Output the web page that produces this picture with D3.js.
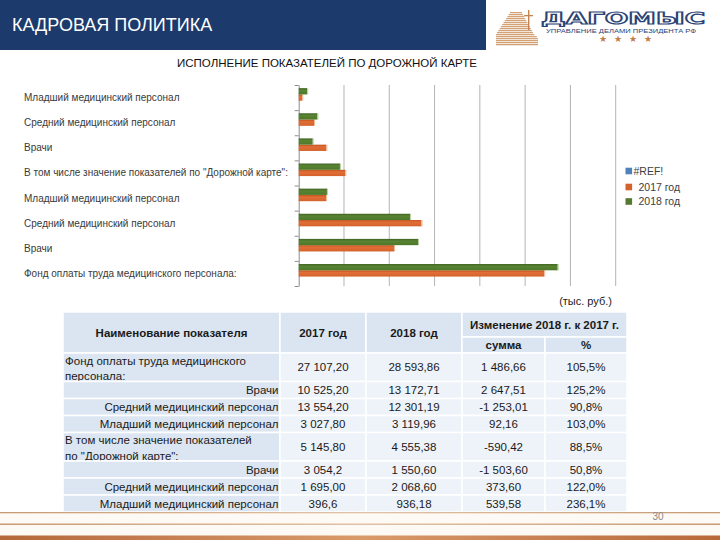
<!DOCTYPE html>
<html><head><meta charset="utf-8">
<script src="https://cdnjs.cloudflare.com/ajax/libs/d3/7.8.5/d3.min.js"></script>
<style>body{margin:0;background:#fff}svg{display:block}</style>
</head><body>
<script>
// ---------- DATA ----------
const categories = [
  "Младший медицинский персонал",
  "Средний медицинский персонал",
  "Врачи",
  "В том числе значение показателей по \"Дорожной карте\":",
  "Младший медицинский персонал",
  "Средний медицинский персонал",
  "Врачи",
  "Фонд оплаты труда медицинского персонала:"
];
const seriesNames = ["#REF!", "2017 год", "2018 год"];
const valuesRef  = [0, 0, 0, 0, 0, 0, 0, 0];
const values2017 = [396.6, 1695.00, 3054.2, 5145.80, 3027.80, 13554.20, 10525.20, 27107.20];
const values2018 = [936.18, 2068.60, 1550.60, 4555.38, 3119.96, 12301.19, 13172.71, 28593.86];
const xTicks = [0, 5000, 10000, 15000, 20000, 25000, 30000, 35000];

const tableHeader = ["Наименование показателя", "2017 год", "2018 год", "Изменение 2018 г. к 2017 г.", "сумма", "%"];
const tableNames = [
  "Фонд оплаты труда медицинского персонала:",
  "Врачи",
  "Средний медицинский персонал",
  "Младший медицинский персонал",
  "В том числе значение показателей по \"Дорожной карте\":",
  "Врачи",
  "Средний медицинский персонал",
  "Младший медицинский персонал"
];
const rowLevel = [0, 1, 1, 1, 0, 1, 1, 1];
const col2017 = ["27 107,20", "10 525,20", "13 554,20", "3 027,80", "5 145,80", "3 054,2", "1 695,00", "396,6"];
const col2018 = ["28 593,86", "13 172,71", "12 301,19", "3 119,96", "4 555,38", "1 550,60", "2 068,60", "936,18"];
const colSum  = ["1 486,66", "2 647,51", "-1 253,01", "92,16", "-590,42", "-1 503,60", "373,60", "539,58"];
const colPct  = ["105,5%", "125,2%", "90,8%", "103,0%", "88,5%", "50,8%", "122,0%", "236,1%"];

// ---------- SVG ----------
const W = 720, H = 540;
const svg = d3.select("body").append("svg").attr("width", W).attr("height", H);
const defs = svg.append("defs");

function grad(id, stops, vertical = true) {
  const g = defs.append("linearGradient").attr("id", id)
    .attr("x1", 0).attr("y1", 0).attr("x2", vertical ? 0 : 1).attr("y2", vertical ? 1 : 0);
  stops.forEach(s => g.append("stop").attr("offset", s[0]).attr("stop-color", s[1]));
}
grad("gGreen", [[0, "#3f6322"], [0.35, "#5a8434"], [1, "#4d7829"]]);
grad("gOrange", [[0, "#c4521c"], [0.35, "#e06e36"], [1, "#d4622a"]]);
grad("gBlue", [[0, "#3f6fa8"], [1, "#5b8fcf"]]);
grad("gCopper", [[0, "#b5683a"], [0.5, "#d99a6c"], [1, "#b8693a"]], false);
grad("gLine", [[0, "#c89a74"], [0.5, "#e2c3a5"], [1, "#c89a74"]], false);
grad("gBuild", [[0, "#e6c09a"], [1, "#b9773f"]]);

// ---------- HEADER ----------
svg.append("rect").attr("x", 0).attr("y", 0).attr("width", 486).attr("height", 50).attr("fill", "#1c3a6b");
svg.append("text").attr("x", 12).attr("y", 30.5).attr("fill", "#fff")
  .attr("font-family", "Liberation Sans, Arial, sans-serif").attr("font-size", 18)
  .text("КАДРОВАЯ ПОЛИТИКА");

// logo
const logo = svg.append("g");
const steps = d3.range(0, 17);
logo.selectAll("rect.step").data(steps).join("rect")
  .attr("x", d => 496 + Math.max(0, 14 - d * 1.3))
  .attr("y", d => 12 + d * 2)
  .attr("width", d => Math.min(42, 12 + d * 2.4))
  .attr("height", 1.2)
  .attr("fill", "url(#gBuild)");
logo.append("rect").attr("x", 528).attr("y", 10).attr("width", 1.4).attr("height", 20).attr("fill", "#c48450");
logo.append("rect").attr("x", 524).attr("y", 15).attr("width", 9).attr("height", 1.3).attr("fill", "#c48450");
logo.append("text").attr("x", 541).attr("y", 23.5).attr("textLength", 164).attr("lengthAdjust", "spacingAndGlyphs")
  .attr("font-family", "DejaVu Sans, sans-serif").attr("font-size", 15.5).attr("font-weight", "bold")
  .attr("fill", "none").attr("stroke", "#2b4375").attr("stroke-width", 1.2)
  .text("ДАГОМЫС");
logo.append("text").attr("x", 546).attr("y", 32.5).attr("textLength", 150).attr("lengthAdjust", "spacingAndGlyphs")
  .attr("font-family", "Liberation Sans, Arial, sans-serif").attr("font-size", 4.8).attr("fill", "#2b4375")
  .text("УПРАВЛЕНИЕ ДЕЛАМИ ПРЕЗИДЕНТА РФ");
logo.selectAll("text.star").data([0, 1, 2, 3]).join("text")
  .attr("x", d => 603 + d * 15).attr("y", 42).attr("text-anchor", "middle")
  .attr("font-family", "DejaVu Sans, sans-serif").attr("font-size", 9).attr("fill", "#c07b46")
  .text("★");

// ---------- CHART ----------
svg.append("text").attr("x", 327).attr("y", 67).attr("text-anchor", "middle")
  .attr("font-family", "Liberation Sans, Arial, sans-serif").attr("font-size", 11.5).attr("fill", "#111")
  .text("ИСПОЛНЕНИЕ ПОКАЗАТЕЛЕЙ ПО ДОРОЖНОЙ КАРТЕ");

const x = d3.scaleLinear().domain([0, 35000]).range([298.7, 615.7]);
const idx = d3.range(categories.length);
const y = d3.scaleBand().domain(idx).range([85, 286]).paddingInner(0).paddingOuter(0);
const sub = d3.scaleBand().domain(["2018", "2017", "ref"]).range([0, y.bandwidth()]).paddingInner(0).paddingOuter(0.5);

const chart = svg.append("g");
chart.selectAll("line.grid").data(xTicks.slice(1)).join("line")
  .attr("x1", d => x(d)).attr("x2", d => x(d)).attr("y1", 85).attr("y2", 286)
  .attr("stroke", "#b4b4b4").attr("stroke-width", 1);

const yAxisG = chart.append("g").attr("transform", `translate(${x(0)},0)`);
const yEdge = d3.scaleLinear().domain([0, categories.length]).range([85, 286]);
yAxisG.call(d3.axisLeft(yEdge).tickValues(d3.range(categories.length + 1)).tickSize(4).tickSizeOuter(0).tickFormat(""));
yAxisG.select(".domain").attr("stroke", "#8c8c8c");
yAxisG.selectAll(".tick line").attr("stroke", "#8c8c8c");

chart.selectAll("text.cat").data(idx).join("text")
  .attr("x", 24).attr("y", i => y(i) + y.bandwidth() / 2 + 3.5)
  .attr("font-family", "Liberation Sans, Arial, sans-serif").attr("font-size", 10).attr("fill", "#3a3a3a")
  .text(i => categories[i]);

const series = [
  { key: "ref", vals: valuesRef, fill: "url(#gBlue)", hi: "#9dbbe0" },
  { key: "2017", vals: values2017, fill: "url(#gOrange)", hi: "#f2b592" },
  { key: "2018", vals: values2018, fill: "url(#gGreen)", hi: "#b9d0a0" }
];
series.forEach(s => {
  chart.selectAll(null).data(idx).join("rect")
    .attr("x", x(0)).attr("y", i => y(i) + sub(s.key))
    .attr("width", i => Math.max(0, x(s.vals[i]) - x(0)))
    .attr("height", sub.bandwidth())
    .attr("fill", s.fill);
  chart.selectAll(null).data(idx.filter(i => s.vals[i] > 0)).join("line")
    .attr("x1", i => x(s.vals[i]) + 0.5).attr("x2", i => x(s.vals[i]) + 0.5)
    .attr("y1", i => y(i) + sub(s.key)).attr("y2", i => y(i) + sub(s.key) + sub.bandwidth())
    .attr("stroke", s.hi).attr("stroke-width", 1);
});

// legend
const leg = svg.append("g");
const legY = [171, 187, 201.5];
const legX = [633.5, 638.5, 638.5];
const legFill = ["#4f81bd", "#d4622a", "#557a2f"];
leg.selectAll("rect").data(seriesNames).join("rect")
  .attr("x", 625.5).attr("y", (d, i) => legY[i] - 3.3).attr("width", 6.6).attr("height", 6.6)
  .attr("fill", (d, i) => legFill[i]);
leg.selectAll("text").data(seriesNames).join("text")
  .attr("x", (d, i) => legX[i]).attr("y", (d, i) => legY[i] + 3.8)
  .attr("font-family", "Liberation Sans, Arial, sans-serif").attr("font-size", 10.5).attr("fill", "#404040")
  .text(d => d);

// ---------- TABLE ----------
const FONT = "Liberation Sans Narrow, Liberation Sans, Arial, sans-serif";
svg.append("text").attr("x", 612).attr("y", 305).attr("text-anchor", "end")
  .attr("font-family", FONT).attr("font-size", 11).attr("fill", "#222").text("(тыс. руб.)");

const colX = [63, 280, 366, 462, 545, 627];
const hTop = 312, hMid = 337, hBot = 353;
const single = 17, dbl = 28.5;
const tbl = svg.append("g");
const headBg = "#dbe5f1", nameBg = "#dce6f2", cellBg = "#eef3f9";

const hdrCells = [
  { x0: colX[0], x1: colX[1], y0: hTop, y1: hBot, t: tableHeader[0] },
  { x0: colX[1], x1: colX[2], y0: hTop, y1: hBot, t: tableHeader[1] },
  { x0: colX[2], x1: colX[3], y0: hTop, y1: hBot, t: tableHeader[2] },
  { x0: colX[3], x1: colX[5], y0: hTop, y1: hMid, t: tableHeader[3] },
  { x0: colX[3], x1: colX[4], y0: hMid, y1: hBot, t: tableHeader[4] },
  { x0: colX[4], x1: colX[5], y0: hMid, y1: hBot, t: tableHeader[5] }
];
tbl.selectAll("rect.h").data(hdrCells).join("rect")
  .attr("x", d => d.x0).attr("y", d => d.y0).attr("width", d => d.x1 - d.x0).attr("height", d => d.y1 - d.y0)
  .attr("fill", headBg).attr("stroke", "#fff").attr("stroke-width", 1.5);
tbl.selectAll("text.h").data(hdrCells).join("text")
  .attr("x", d => (d.x0 + d.x1) / 2).attr("y", d => (d.y0 + d.y1) / 2 + 4).attr("text-anchor", "middle")
  .attr("font-family", FONT).attr("font-size", 11.5).attr("font-weight", "bold").attr("fill", "#1a1a1a")
  .text(d => d.t);

let yy = hBot;
const rows = tableNames.map((n, i) => {
  const h = rowLevel[i] === 0 ? dbl : single;
  const r = { i, y0: yy, h };
  yy += h;
  return r;
});
const vals = [col2017, col2018, colSum, colPct];
rows.forEach(r => {
  tbl.append("rect").attr("x", colX[0]).attr("y", r.y0).attr("width", colX[1] - colX[0]).attr("height", r.h)
    .attr("fill", nameBg).attr("stroke", "#fff").attr("stroke-width", 1.5);
  vals.forEach((arr, c) => {
    tbl.append("rect").attr("x", colX[c + 1]).attr("y", r.y0).attr("width", colX[c + 2] - colX[c + 1]).attr("height", r.h)
      .attr("fill", cellBg).attr("stroke", "#fff").attr("stroke-width", 1.5);
    tbl.append("text").attr("x", (colX[c + 1] + colX[c + 2]) / 2).attr("y", r.y0 + r.h / 2 + 4)
      .attr("text-anchor", "middle").attr("font-family", FONT).attr("font-size", 11.5).attr("fill", "#1a1a1a")
      .text(arr[r.i]);
  });
  const name = tableNames[r.i];
  if (rowLevel[r.i] === 0) {
    const t = tbl.append("text").attr("font-family", FONT).attr("font-size", 11.5).attr("fill", "#1a1a1a");
    const words = name.split(" ");
    let lines = [], cur = [];
    const probe = t.append("tspan");
    words.forEach(w => {
      cur.push(w);
      probe.text(cur.join(" "));
      if (probe.node().getComputedTextLength() > 195 && cur.length > 1) {
        cur.pop(); lines.push(cur.join(" ")); cur = [w];
      }
    });
    lines.push(cur.join(" "));
    probe.remove();
    t.selectAll("tspan").data(lines).join("tspan")
      .attr("x", colX[0] + 2).attr("y", (d, k) => r.y0 + 11.5 + k * 15.5).text(d => d);
  } else {
    tbl.append("text").attr("x", colX[1] - 1.5).attr("y", r.y0 + r.h / 2 + 4).attr("text-anchor", "end")
      .attr("font-family", FONT).attr("font-size", 11.5).attr("fill", "#1a1a1a").text(name);
  }
});

// ---------- FOOTER ----------
svg.append("rect").attr("x", 0).attr("y", 513).attr("width", W).attr("height", 23).attr("fill", "#fdf9f4");
svg.append("rect").attr("x", 0).attr("y", 512).attr("width", W).attr("height", 1.3).attr("fill", "url(#gLine)");
svg.append("rect").attr("x", 0).attr("y", 523.5).attr("width", W).attr("height", 1.5).attr("fill", "url(#gLine)");
svg.append("rect").attr("x", 0).attr("y", 535.5).attr("width", W).attr("height", 4.5).attr("fill", "url(#gCopper)");
svg.append("text").attr("x", 658).attr("y", 520).attr("text-anchor", "middle")
  .attr("font-family", "Liberation Sans, Arial, sans-serif").attr("font-size", 10).attr("fill", "#8a8a8a").text("30");
</script>
</body></html>
